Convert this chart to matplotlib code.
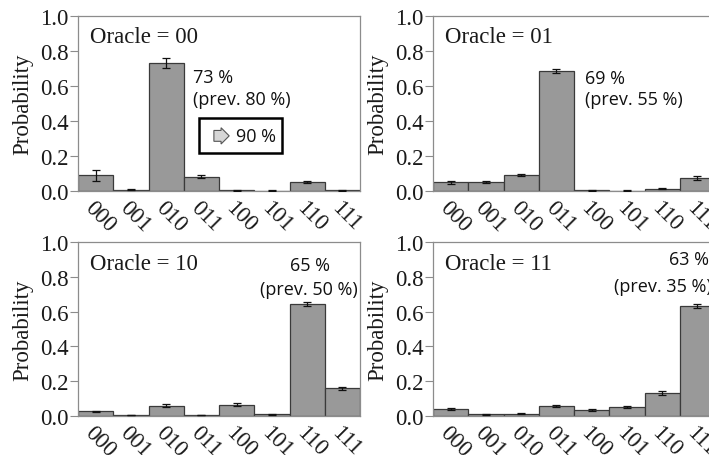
import matplotlib
matplotlib.use("Agg")
import matplotlib.pyplot as plt
import matplotlib.patches as mpatches
import numpy as np

states = ['000', '001', '010', '011', '100', '101', '110', '111']

p00 = [0.090, 0.008, 0.732, 0.082, 0.004, 0.002, 0.050, 0.004]
e00 = [0.030, 0.003, 0.028, 0.010, 0.002, 0.001, 0.006, 0.002]
p01 = [0.050, 0.052, 0.092, 0.686, 0.004, 0.002, 0.013, 0.073]
e01 = [0.008, 0.006, 0.008, 0.010, 0.002, 0.001, 0.003, 0.010]
p10 = [0.027, 0.006, 0.060, 0.005, 0.064, 0.009, 0.645, 0.160]
e10 = [0.004, 0.002, 0.007, 0.002, 0.008, 0.004, 0.011, 0.008]
p11 = [0.040, 0.010, 0.013, 0.057, 0.034, 0.054, 0.132, 0.632]
e11 = [0.008, 0.003, 0.004, 0.007, 0.005, 0.006, 0.010, 0.012]

oracles = ['00', '01', '10', '11']
values = [p00, p01, p10, p11]
errors = [e00, e01, e10, e11]
success = ['73 %', '69 %', '65 %', '63 %']
previous = ['(prev. 80 %)', '(prev. 55 %)', '(prev. 50 %)', '(prev. 35 %)']

W, H = 709, 456
fig = plt.figure(figsize=(W / 100, H / 100), dpi=100)

serif = 'Liberation Serif'
sans = 'Open Sans'

# axes rectangles in pixels: (left, top, width, height)
rects = [(78, 17, 282, 175), (433, 17, 282, 175),
         (78, 243, 282, 174), (433, 243, 282, 174)]

spine_col = '#8c8c8c'
axes = []
for i, (l, t, w, h) in enumerate(rects):
    ax = fig.add_axes([l / W, (H - t - h) / H, w / W, h / H])
    axes.append(ax)
    x = np.arange(len(states))
    ax.bar(x, values[i], width=1.0, color='#999999', edgecolor='#3a3a3a',
           linewidth=0.9, zorder=2)
    ax.errorbar(x, values[i], yerr=errors[i], fmt='none', ecolor='#111111',
                elinewidth=0.9, capsize=2.6, capthick=0.9, zorder=3)
    ax.set_xlim(-0.5, 7.5)
    ax.set_ylim(0, 1.0)
    ax.set_yticks([0.0, 0.2, 0.4, 0.6, 0.8, 1.0])
    ax.set_yticklabels(['0.0', '0.2', '0.4', '0.6', '0.8', '1.0'],
                       fontfamily=serif, fontsize=16.5, color='#1a1a1a')
    ax.set_xticks(x)
    ax.set_xticklabels(states, fontfamily=serif, fontsize=16.5,
                       color='#1a1a1a', rotation=-45, ha='left', va='top',
                       rotation_mode='anchor')
    ax.tick_params(axis='x', length=0, pad=4)
    ax.tick_params(axis='y', length=6, width=0.8, color=spine_col, pad=1)
    for s in ax.spines.values():
        s.set_color(spine_col)
        s.set_linewidth(0.9)
    ax.set_ylabel('Probability', fontfamily=serif, fontsize=16.5,
                  color='#1a1a1a')
    ax.yaxis.set_label_coords(-0.16, 0.5)
    ax.text(0.043, 0.885 if i < 2 else 0.875, 'Oracle = ' + oracles[i],
            transform=ax.transAxes, fontfamily=serif, fontsize=16.5,
            color='#1a1a1a', ha='left', va='center')

# annotations
ax = axes[0]
ax.text(2.77, 0.65, success[0], fontfamily=sans, fontsize=13, ha='left',
        va='center', color='#111111')
ax.text(2.77, 0.525, previous[0], fontfamily=sans, fontsize=13, ha='left',
        va='center', color='#111111')
ax.add_patch(mpatches.Rectangle((2.94, 0.22), 2.36, 0.20, fill=False,
                                edgecolor='black', linewidth=1.8, zorder=4))
ax.text(3.52, 0.315, '   ', fontsize=5, ha='center', va='center',
        bbox=dict(boxstyle='rarrow,pad=0.35', fc='#d6d6d6', ec='#555555',
                  lw=0.8), zorder=5)
ax.text(3.98, 0.315, '90 %', fontfamily=sans, fontsize=13, ha='left',
        va='center', color='#111111')

ax = axes[1]
ax.text(3.82, 0.645, success[1], fontfamily=sans, fontsize=13, ha='left',
        va='center', color='#111111')
ax.text(3.82, 0.525, previous[1], fontfamily=sans, fontsize=13, ha='left',
        va='center', color='#111111')

ax = axes[2]
ax.text(6.09, 0.868, success[2], fontfamily=sans, fontsize=13, ha='center',
        va='center', color='#111111')
ax.text(6.05, 0.73, previous[2], fontfamily=sans, fontsize=13, ha='center',
        va='center', color='#111111')

ax = axes[3]
ax.text(7.34, 0.90, success[3], fontfamily=sans, fontsize=13, ha='right',
        va='center', color='#111111')
ax.text(7.40, 0.75, previous[3], fontfamily=sans, fontsize=13, ha='right',
        va='center', color='#111111')

fig.savefig('out.png', dpi=100)
